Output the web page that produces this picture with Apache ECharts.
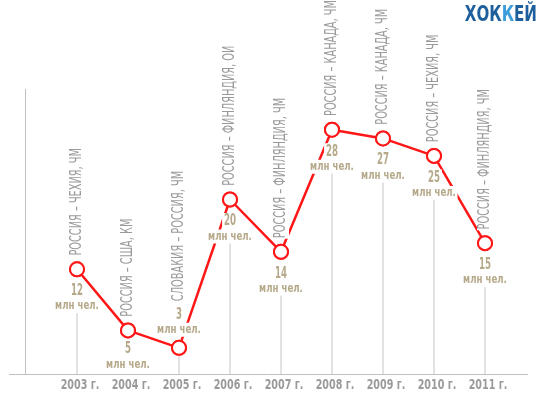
<!DOCTYPE html>
<html>
<head>
<meta charset="utf-8">
<title>Хоккей</title>
<script src="https://cdn.jsdelivr.net/npm/echarts@6/dist/echarts.min.js"></script>
<style>
  html, body { margin: 0; padding: 0; background: #fff; }
  #main { width: 540px; height: 397px; }
</style>
</head>
<body>
<div id="main"></div>
<script type="text/javascript">
// данные: годы, зрители (млн чел.), матчи
var years = ['2003', '2004', '2005', '2006', '2007', '2008', '2009', '2010', '2011'];
var viewers = [12, 5, 3, 20, 14, 28, 27, 25, 15];
var matches = [
    'РОССИЯ – ЧЕХИЯ, ЧМ',
    'РОССИЯ – США, КМ',
    'СЛОВАКИЯ – РОССИЯ, ЧМ',
    'РОССИЯ – ФИНЛЯНДИЯ, ОИ',
    'РОССИЯ – ФИНЛЯНДИЯ, ЧМ',
    'РОССИЯ – КАНАДА, ЧМ',
    'РОССИЯ – КАНАДА, ЧМ',
    'РОССИЯ – ЧЕХИЯ, ЧМ',
    'РОССИЯ – ФИНЛЯНДИЯ, ЧМ'
];
var unit = 'млн чел.';
var yearSuffix = ' г.';

var FONT = '"DejaVu Sans Condensed", "DejaVu Sans", sans-serif';
var GRAY = '#9a9a9a';
var TAN = '#b6a98a';
var RED = '#ff1616';

var myChart = echarts.init(document.getElementById('main'));

// подписи и вертикальные линии к каждой точке
// (шрифт в оригинале очень узкий - сжимаем по горизонтали через scaleX)
function renderLabel(params, api) {
    var i = api.value(0);
    var v = api.value(1);
    var p = api.coord([i, v]);
    var z = api.coord([i, 0]);
    var room = z[1] - p[1];
    var children = [];
    var numY, txtY, lineFrom;
    if (room < 30) {
        // места снизу нет - подпись над точкой
        numY = p[1] - 33;
        txtY = p[1] - 18;
        lineFrom = p[1] + 7;
    } else {
        numY = p[1] + Math.min(22, room * 0.42);
        txtY = p[1] + Math.min(37, room * 0.8);
        lineFrom = p[1] + 43;
    }
    if (z[1] - lineFrom > 1) {
        children.push({
            type: 'line',
            shape: { x1: p[0], y1: lineFrom, x2: p[0], y2: z[1] },
            style: { stroke: '#c4c4c4', lineWidth: 1 }
        });
    }
    children.push({
        type: 'text',
        x: p[0], y: numY, scaleX: 0.64,
        style: {
            text: String(v), fill: TAN, font: 'bold 15px ' + FONT,
            align: 'center', verticalAlign: 'middle',
            backgroundColor: '#fff', padding: [1, 3]
        }
    });
    children.push({
        type: 'text',
        x: p[0], y: txtY, scaleX: 0.8,
        style: {
            text: unit, fill: TAN, font: 'bold 12px ' + FONT,
            align: 'center', verticalAlign: 'middle',
            backgroundColor: '#fff', padding: [1, 2]
        }
    });
    var topY = room < 30 ? p[1] - 46 : p[1] - 13;
    children.push({
        type: 'text',
        x: p[0], y: topY,
        rotation: Math.PI / 2,
        scaleX: 0.68,
        style: {
            text: matches[params.dataIndex], fill: GRAY, font: '16px ' + FONT,
            align: 'left', verticalAlign: 'middle',
            backgroundColor: '#fff', padding: [0, 1]
        }
    });
    // подпись года под осью
    children.push({
        type: 'text',
        x: p[0] + 3, y: z[1] + 11, scaleX: 0.76,
        style: {
            text: years[params.dataIndex] + yearSuffix, fill: GRAY, font: 'bold 14px ' + FONT,
            align: 'center', verticalAlign: 'middle'
        }
    });
    return { type: 'group', children: children };
}

var option = {
    animation: false,
    grid: { left: 51.5, right: 29.5, top: 25, bottom: 23 },
    xAxis: {
        type: 'category',
        data: years,
        boundaryGap: true,
        axisLine: { show: false },
        axisTick: { show: false },
        axisLabel: { show: false }
    },
    yAxis: {
        type: 'value', min: 0, max: 40,
        show: false
    },
    graphic: [
        { type: 'line', shape: { x1: 9, y1: 374.5, x2: 528, y2: 374.5 }, style: { stroke: '#c0c0c0', lineWidth: 1 }, z: 0 },
        { type: 'line', shape: { x1: 25.5, y1: 89, x2: 25.5, y2: 374 }, style: { stroke: '#c0c0c0', lineWidth: 1 }, z: 0 },
        {
            type: 'text', x: 537, y: 5, scaleX: 0.8,
            style: {
                text: '{a|ХОК}{b|К}{a|ЕЙ}',
                align: 'right',
                rich: {
                    a: { fill: '#1d5f9c', font: 'bold 21px ' + FONT },
                    b: { fill: '#3b9ddc', font: 'bold 21px ' + FONT }
                }
            }
        }
    ],
    series: [
        {
            type: 'line',
            data: viewers,
            z: 2,
            symbol: 'circle',
            symbolSize: 14,
            lineStyle: { color: RED, width: 2.5 },
            itemStyle: { color: '#fff', borderColor: RED, borderWidth: 2 }
        },
        {
            type: 'custom',
            z: 3,
            data: viewers.map(function (v, i) { return [i, v]; }),
            renderItem: renderLabel
        },
        {
            // кружки поверх подписей
            type: 'line',
            data: viewers,
            z: 4,
            symbol: 'circle',
            symbolSize: 14,
            lineStyle: { width: 0, opacity: 0 },
            itemStyle: { color: '#fff', borderColor: RED, borderWidth: 2 }
        }
    ]
};

myChart.setOption(option);
</script>
</body>
</html>
